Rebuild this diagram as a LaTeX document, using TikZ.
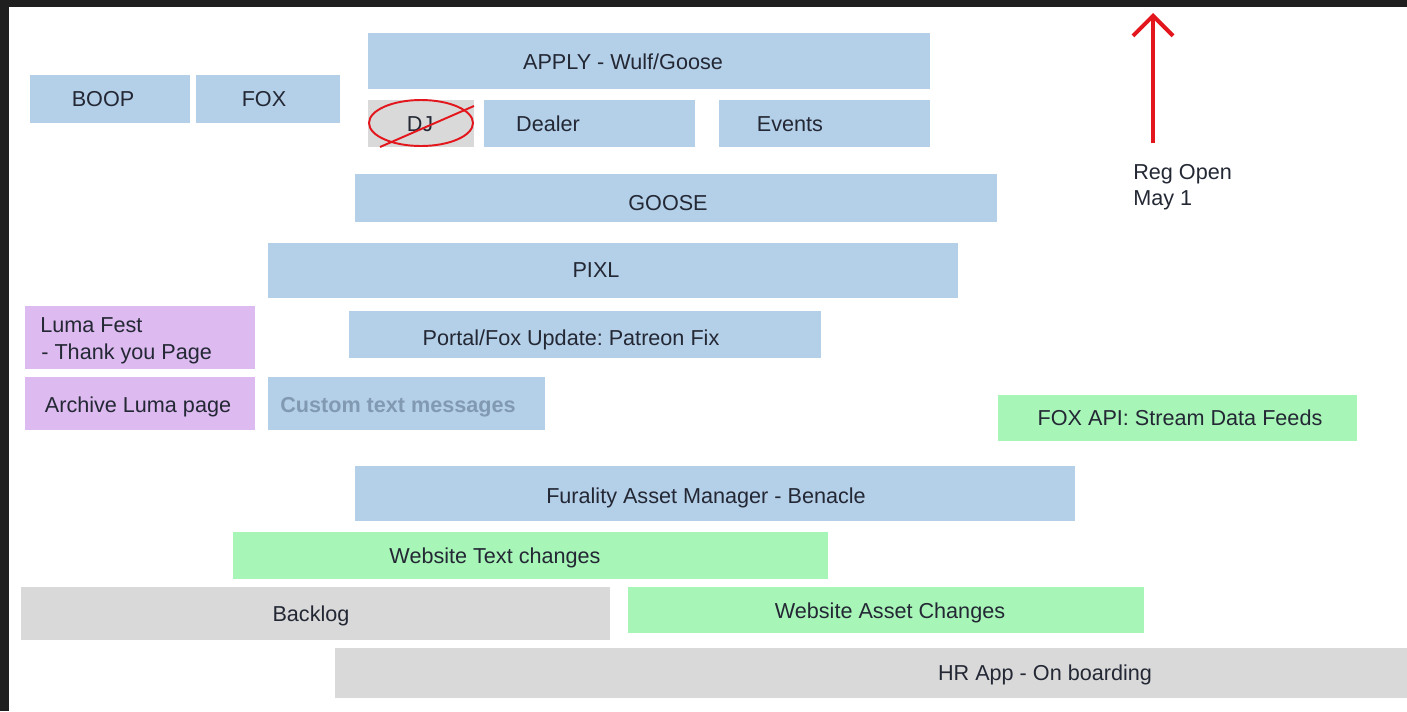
\documentclass[tikz,border=0pt]{standalone}
\usepackage{fontspec}
\setmainfont{Liberation Sans}
\usetikzlibrary{arrows.meta}
\frenchspacing
\definecolor{barblue}{RGB}{180,207,232}
\definecolor{bargray}{RGB}{217,217,217}
\definecolor{bargreen}{RGB}{168,245,184}
\definecolor{barpurple}{RGB}{221,186,240}
\definecolor{darkframe}{RGB}{31,31,31}
\definecolor{ink}{RGB}{35,40,52}
\definecolor{blurink}{RGB}{118,140,165}
\definecolor{regred}{RGB}{226,22,28}

\begin{document}
\begin{tikzpicture}[x=0.02cm, y=-0.02cm,
		lbl/.style={font=\fontsize{12.3}{15.4}\selectfont, text=ink, inner sep=0pt, text height=8.8pt, text depth=0pt},
		regarrow/.style={draw=regred, line width=2.3pt, -{Straight Barb[length=4mm, width=8mm]}}]

		\fill[white] (0,0) rectangle (1407,711);
		\fill[darkframe] (0,0) rectangle (1407,7);
		\fill[darkframe] (0,0) rectangle (9,711);

		\fill[barblue] (30,75) rectangle (190,123);
		\fill[barblue] (196,75) rectangle (340,123);
		\fill[barblue] (368,33) rectangle (930,89);
		\fill[bargray] (368,100) rectangle (474,147);
		\fill[barblue] (484,100) rectangle (695,147);
		\fill[barblue] (719,100) rectangle (930,147);
		\fill[barblue] (355,174) rectangle (997,222);
		\fill[barblue] (268,243) rectangle (958,298);
		\fill[barpurple] (25,306) rectangle (255,369);
		\fill[barpurple] (25,377) rectangle (255,430);
		\fill[barblue] (349,311) rectangle (821,358);
		\fill[barblue] (268,377) rectangle (545,430);
		\fill[bargreen] (998,395) rectangle (1357,441);
		\fill[barblue] (355,466) rectangle (1075,521);
		\fill[bargreen] (233,532) rectangle (828,579);
		\fill[bargray] (21,587) rectangle (610,640);
		\fill[bargreen] (628,587) rectangle (1144,633);
		\fill[bargray] (335,648) rectangle (1407,698);

		\node[lbl] (BOOP) at (103,99) {BOOP};
		\node[lbl] (FOX) at (264,99) {FOX};
		\node[lbl] (APPLY) at (623,62) {APPLY - Wulf/Goose};
		\node[lbl] (DJ) at (420,124) {DJ};
		\node[lbl] (DEALER) at (548,124) {Dealer};
		\node[lbl] (EVENTS) at (790,124) {Events};
		\node[lbl] (GOOSE) at (668,203) {GOOSE};
		\node[lbl] (PIXL) at (596,270) {PIXL};
		\node[lbl, anchor=west] (LUMA) at (40,325) {Luma Fest};
		\node[lbl, anchor=west] (THANKS) at (41,352) {- Thank you Page};
		\node[lbl] (ARCHIVE) at (138,405) {Archive Luma page};
		\node[lbl] (PORTAL) at (571,338) {Portal/Fox Update: Patreon Fix};
		\node[lbl, text=blurink, font=\bfseries\fontsize{12.3}{15.4}\selectfont, opacity=0.8] (CUSTOM) at (398,405) {Custom text messages};
		\node[lbl] (FOXAPI) at (1180,418) {FOX API: Stream Data Feeds};
		\node[lbl] (FAM) at (706,496) {Furality Asset Manager - Benacle};
		\node[lbl] (WEBTEXT) at (495,556) {Website Text changes};
		\node[lbl] (BACKLOG) at (311,614) {Backlog};
		\node[lbl] (WEBASSET) at (890,611) {Website Asset Changes};
		\node[lbl] (HR) at (1045,673) {HR App - On boarding};

		\draw[regred, line width=1.1pt] (421,123) ellipse [x radius=52, y radius=23];
		\draw[regred, line width=1.1pt] (380,147) -- (474,106);

		\coordinate (REGFOOT) at (1153,143);
		\coordinate (REGTIP) at (1153,13);
		\draw[regarrow] (REGFOOT) -- (REGTIP);
		\node[lbl, anchor=west] (REG) at (1133,172) {Reg Open};
		\node[lbl, anchor=west] (MAY) at (1133,198) {May 1};

	\end{tikzpicture}
\end{document}
